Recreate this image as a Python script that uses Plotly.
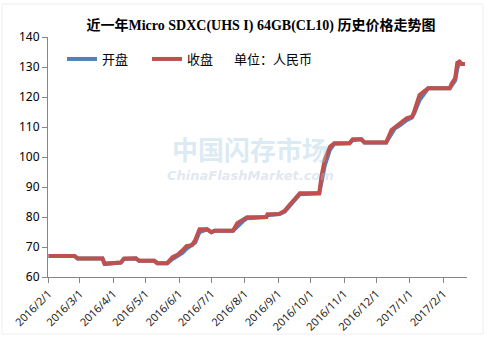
import plotly.graph_objects as go

# ---- data ----
dates = [
    "2016-02-01", "2016-02-25", "2016-02-28", "2016-03-22", "2016-03-24", "2016-04-04",
    "2016-04-08", "2016-04-11", "2016-04-22", "2016-04-25", "2016-05-09", "2016-05-12",
    "2016-05-21", "2016-05-26", "2016-05-31", "2016-06-04", "2016-06-08", "2016-06-13",
    "2016-06-16", "2016-06-20", "2016-06-27", "2016-07-01", "2016-07-04", "2016-07-21",
    "2016-07-25", "2016-07-30", "2016-08-03", "2016-08-21", "2016-08-22", "2016-09-02",
    "2016-09-07", "2016-09-10", "2016-09-13", "2016-09-18", "2016-09-21", "2016-10-09",
    "2016-10-11", "2016-10-14", "2016-10-19", "2016-10-23", "2016-11-06", "2016-11-09",
    "2016-11-17", "2016-11-20", "2016-12-10", "2016-12-15", "2016-12-18", "2016-12-23",
    "2016-12-29", "2017-01-03", "2017-01-05", "2017-01-10", "2017-01-15", "2017-01-18",
    "2017-02-07", "2017-02-09", "2017-02-12", "2017-02-14", "2017-02-16", "2017-02-18",
    "2017-02-21",
]
close_price = [
    67.0, 67.0, 66.2, 66.2, 64.4, 64.5,
    64.8, 66.2, 66.2, 65.4, 65.4, 64.6,
    64.6, 66.6, 67.5, 68.8, 70.3, 70.6,
    72.3, 75.9, 75.9, 74.9, 75.4, 75.4,
    77.9, 79.0, 79.9, 80.0, 80.9, 81.0,
    82.1, 83.4, 84.6, 86.8, 87.9, 87.9,
    93.4, 99.0, 103.4, 104.6, 104.6, 105.9,
    105.9, 104.8, 104.8, 109.0, 109.9, 111.0,
    112.9, 113.4, 115.1, 120.7, 122.3, 122.9,
    122.9, 124.6, 126.2, 131.4, 131.8, 131.0,
    131.0,
]
open_price = [
    67.0, 67.0, 66.2, 66.2, 64.4, 64.5,
    64.8, 66.0, 66.2, 65.4, 65.4, 64.6,
    64.6, 66.0, 67.0, 68.0, 69.5, 70.6,
    71.5, 75.0, 75.9, 74.9, 75.4, 75.4,
    77.0, 78.5, 79.6, 80.0, 80.6, 81.0,
    81.8, 83.0, 84.0, 86.0, 87.6, 87.9,
    91.0, 97.0, 102.5, 104.4, 104.6, 105.6,
    105.9, 104.8, 104.8, 107.5, 109.5, 110.6,
    112.3, 113.2, 114.5, 119.0, 121.8, 122.9,
    122.9, 124.0, 125.5, 129.5, 131.8, 131.0,
    131.0,
]
tick_dates = [
    "2016-02-01", "2016-03-01", "2016-04-01", "2016-05-01", "2016-06-01", "2016-07-01",
    "2016-08-01", "2016-09-01", "2016-10-01", "2016-11-01", "2016-12-01", "2017-01-01",
    "2017-02-01",
]
tick_labels = [
    "2016/2/1", "2016/3/1", "2016/4/1", "2016/5/1", "2016/6/1", "2016/7/1",
    "2016/8/1", "2016/9/1", "2016/10/1", "2016/11/1", "2016/12/1", "2017/1/1",
    "2017/2/1",
]
y_ticks = [60, 70, 80, 90, 100, 110, 120, 130, 140]

W, H = 488, 339
L, R, T, B = 48, 21, 37, 62
pw, ph = W - L - R, H - T - B

def px(x):
    return (x - L) / pw

def py(y):
    return 1 - (y - T) / ph

fig = go.Figure()
fig.add_trace(go.Scatter(
    x=dates, y=open_price, name="开盘", mode="lines",
    line=dict(color="#4F81BD", width=4),
))
fig.add_trace(go.Scatter(
    x=dates, y=close_price, name="收盘", mode="lines",
    line=dict(color="#C0504D", width=4),
))

cjk = "Noto Sans CJK SC, Noto Sans, sans-serif"

fig.update_layout(
    width=W, height=H,
    margin=dict(l=L, r=R, t=T, b=B),
    paper_bgcolor="white", plot_bgcolor="white",
    title=dict(
        text="<b>近一年Micro SDXC(UHS I) 64GB(CL10) 历史价格走势图</b>",
        x=261 / W, xanchor="center", xref="container",
        y=1 - 25 / H, yanchor="middle", yref="container",
        font=dict(family="Liberation Serif, Noto Sans CJK SC, serif", size=14, color="#000000"),
    ),
    showlegend=True,
    legend=dict(
        orientation="h", x=px(62), y=py(44), xanchor="left", yanchor="top",
        font=dict(family=cjk, size=13, color="#000000"),
        bgcolor="rgba(0,0,0,0)", entrywidth=40, entrywidthmode="pixels",
        tracegroupgap=0,
    ),
    xaxis=dict(
        type="date",
        range=["2016-01-31 12:00", "2017-02-23"],
        tickvals=tick_dates, ticktext=tick_labels,
        tickangle=-45,
        showgrid=False, zeroline=False,
        showline=True, linecolor="#868686", linewidth=1,
        ticks="outside", ticklen=5, tickcolor="#868686",
        automargin=False,
        tickfont=dict(family="Noto Sans, sans-serif", size=11, color="#222222"),
    ),
    yaxis=dict(
        range=[60, 140], tickvals=y_ticks,
        showgrid=False, zeroline=False,
        showline=True, linecolor="#868686", linewidth=1,
        ticks="outside", ticklen=5, tickcolor="#868686",
        automargin=False,
        tickfont=dict(family="Noto Sans, sans-serif", size=12, color="#000000"),
    ),
    annotations=[
        dict(text="单位：人民币", x=px(232), y=py(58), xref="paper", yref="paper",
             xanchor="left", yanchor="middle", showarrow=False,
             font=dict(family=cjk, size=13, color="#000000")),
        dict(text="<b>中国闪存市场</b>", x=px(250), y=py(148), xref="paper", yref="paper",
             xanchor="center", yanchor="middle", showarrow=False,
             font=dict(family=cjk, size=26, color="rgba(160,200,225,0.4)")),
        dict(text="<b><i>ChinaFlashMarket.com</i></b>", x=px(250), y=py(175), xref="paper", yref="paper",
             xanchor="center", yanchor="middle", showarrow=False,
             font=dict(family="DejaVu Sans, sans-serif", size=13, color="rgba(175,195,215,0.4)")),
    ],
    shapes=[
        dict(type="rect", xref="paper", yref="paper",
             x0=px(2), x1=px(483), y0=py(334), y1=py(4),
             line=dict(color="#EEEEEE", width=1), layer="below"),
    ],
)

fig.write_html("out.html")
